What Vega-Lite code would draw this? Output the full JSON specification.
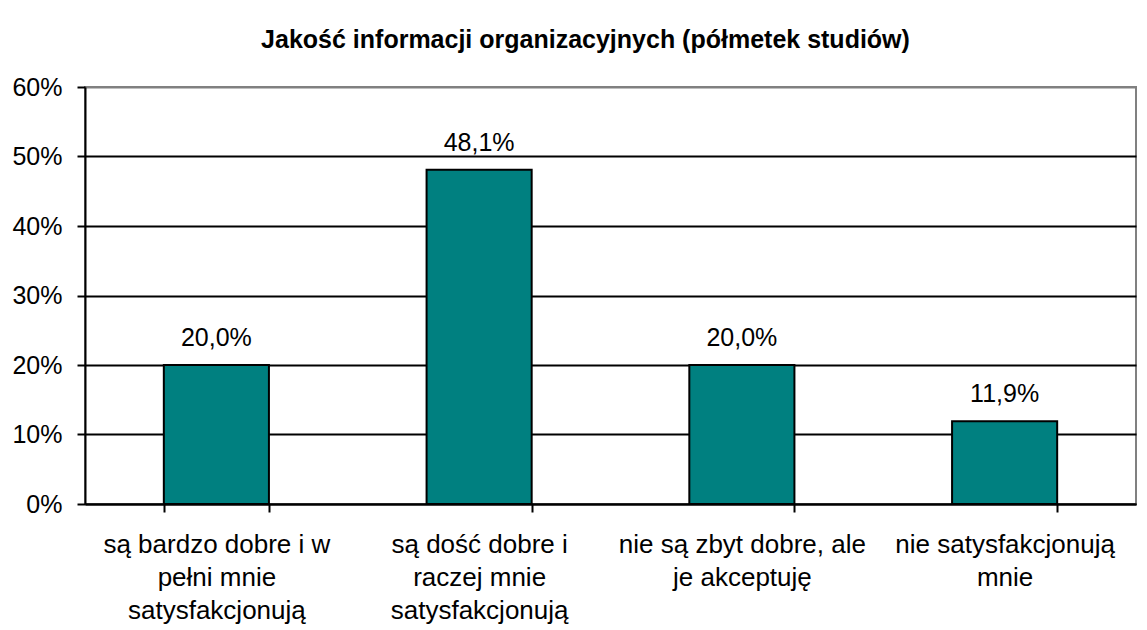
{
  "$schema": "https://vega.github.io/schema/vega-lite/v6.json",
  "width": 1051,
  "height": 417,
  "autosize": {"type": "none"},
  "padding": {"left": 85, "top": 87, "right": 11, "bottom": 126},
  "background": "white",
  "config": {
    "locale": {"number": {"decimal": ",", "thousands": " ", "grouping": [3], "currency": ["", " zł"]}},
    "font": "Liberation Sans",
    "view": {"stroke": "#808080", "strokeWidth": 2}
  },
  "title": {
    "text": "Jakość informacji organizacyjnych (półmetek studiów)",
    "font": "Liberation Sans",
    "fontSize": 25,
    "fontWeight": "bold",
    "color": "black",
    "anchor": "middle",
    "frame": "group",
    "baseline": "alphabetic",
    "offset": 2,
    "dx": -25
  },
  "data": {
    "values": [
      {"kategoria": "są bardzo dobre i w\npełni mnie\nsatysfakcjonują", "udzial": 0.2},
      {"kategoria": "są dość dobre i\nraczej mnie\nsatysfakcjonują", "udzial": 0.481},
      {"kategoria": "nie są zbyt dobre, ale\nje akceptuję", "udzial": 0.2},
      {"kategoria": "nie satysfakcjonują\nmnie", "udzial": 0.119}
    ]
  },
  "encoding": {
    "x": {
      "field": "kategoria",
      "type": "nominal",
      "sort": null,
      "scale": {"paddingInner": 0.6, "paddingOuter": 0.3},
      "axis": {
        "title": null,
        "tickBand": "extent",
        "grid": false,
        "labelAngle": 0,
        "tickSize": 8,
        "tickWidth": 2,
        "tickColor": "black",
        "domainColor": "black",
        "domainWidth": 2,
        "labelFontSize": 26,
        "labelColor": "black",
        "labelPadding": 19,
        "labelBaseline": "top",
        "labelLineHeight": 33,
        "labelLimit": 0,
        "labelOverlap": false,
        "labelFlush": false,
        "labelExpr": "split(datum.label, '\\n')"
      }
    },
    "y": {
      "field": "udzial",
      "type": "quantitative",
      "scale": {"domain": [0, 0.6], "nice": false},
      "axis": {
        "title": null,
        "format": ".0%",
        "values": [0, 0.1, 0.2, 0.3, 0.4, 0.5, 0.6],
        "grid": true,
        "gridColor": {"condition": {"test": "datum.value >= 0.59", "value": "#808080"}, "value": "black"},
        "gridWidth": 2,
        "gridOpacity": 1,
        "tickSize": 8,
        "tickWidth": 2,
        "tickColor": "black",
        "domainColor": "black",
        "domainWidth": 2,
        "labelFontSize": 25,
        "labelColor": "black",
        "labelPadding": 15,
        "labelBaseline": "middle"
      }
    }
  },
  "layer": [
    {
      "mark": {"type": "bar", "fill": "#008080", "stroke": "black", "strokeWidth": 2}
    },
    {
      "mark": {"type": "text", "fontSize": 25, "color": "black", "baseline": "alphabetic", "dy": -19, "font": "Liberation Sans"},
      "encoding": {
        "text": {"field": "udzial", "type": "quantitative", "format": ".1%"}
      }
    }
  ]
}
